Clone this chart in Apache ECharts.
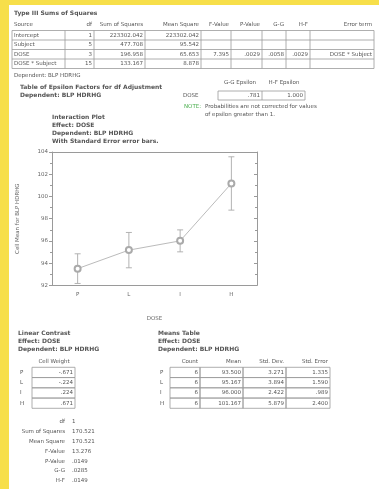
<!DOCTYPE html>
<html>
<head>
<meta charset="utf-8">
<script src="https://cdn.jsdelivr.net/npm/echarts@6/dist/echarts.min.js"></script>
<style>
  html, body { margin: 0; padding: 0; background: #f7df4a; }
  #chart { width: 379px; height: 489px; }
</style>
</head>
<body>
<div id="chart"></div>
<script>
// Dose levels and cell statistics (repeated measures)
const doseLevels = ['P', 'L', 'I', 'H'];
const cellCounts = [6, 6, 6, 6];
const cellMeans = [93.5, 95.167, 96.0, 101.167];
const cellStdDev = [3.271, 3.894, 2.422, 5.879];
const cellStdErr = [1.335, 1.59, 0.989, 2.4];

// Type III ANOVA table
const anovaHeaders = ['Source', 'df', 'Sum of Squares', 'Mean Square', 'F-Value', 'P-Value', 'G-G', 'H-F', 'Error term'];
const anovaSources = ['Intercept', 'Subject', 'DOSE', 'DOSE * Subject'];
const anovaDf = ['1', '5', '3', '15'];
const anovaSS = ['223302.042', '477.708', '196.958', '133.167'];
const anovaMS = ['223302.042', '95.542', '65.653', '8.878'];
const anovaF = ['', '', '7.395', ''];
const anovaP = ['', '', '.0029', ''];
const anovaGG = ['', '', '.0058', ''];
const anovaHF = ['', '', '.0029', ''];
const anovaErr = ['', '', 'DOSE * Subject', ''];

// Epsilon factors
const epsilonHeaders = ['G-G Epsilon', 'H-F Epsilon'];
const epsilonValues = ['.781', '1.000'];

// Linear contrast
const contrastWeights = ['-.671', '-.224', '.224', '.671'];
const contrastLabels = ['df', 'Sum of Squares', 'Mean Square', 'F-Value', 'P-Value', 'G-G', 'H-F'];
const contrastValues = ['1', '170.521', '170.521', '13.276', '.0149', '.0285', '.0149'];

// Y axis scale
const yMin = 92;
const yMax = 104;
const yStep = 2;

const FONT = 'DejaVu Sans';
const TXT = '#555';
const LINE = '#9a9a9a';

const g = [];

// page background
g.push({ type: 'rect', shape: { x: 9, y: 5, width: 370, height: 484 }, style: { fill: '#fff' }, z: -10 });

function text(x, y, s, opt) {
  opt = opt || {};
  g.push({
    type: 'text', x: x, y: y, z: 5,
    style: {
      text: s, fill: opt.color || TXT,
      font: (opt.bold ? 'bold ' : '') + (opt.size || 5.5) + 'px "' + FONT + '"',
      textAlign: opt.align || 'left', textVerticalAlign: 'middle'
    }
  });
}
function box(x, y, w, h) {
  g.push({ type: 'rect', z: 4, shape: { x: x, y: y, width: w, height: h }, style: { fill: 'none', stroke: LINE, lineWidth: 0.8 } });
}
function vline(x, y1, y2) {
  g.push({ type: 'line', z: 4, shape: { x1: x, y1: y1, x2: x, y2: y2 }, style: { stroke: LINE, lineWidth: 0.8 } });
}
function hline(x1, x2, y) {
  g.push({ type: 'line', z: 4, shape: { x1: x1, y1: y, x2: x2, y2: y }, style: { stroke: LINE, lineWidth: 0.8 } });
}

// ---- Type III Sums of Squares ----
text(14, 13, 'Type III Sums of Squares', { bold: true, size: 6 });
const colEdges = [12, 65, 94, 145, 201, 231, 262, 286, 310, 374];
const rowTop = 30.5, rowH = 9.5;
anovaHeaders.forEach((h, i) => {
  if (i === 0) text(14, 25, h);
  else text(colEdges[i + 1] - 2, 25, h, { align: 'right' });
});
box(colEdges[0], rowTop, colEdges[colEdges.length - 1] - colEdges[0], rowH * 4);
colEdges.slice(1, -1).forEach(x => vline(x, rowTop, rowTop + rowH * 4));
for (let r = 1; r < 4; r++) hline(colEdges[0], colEdges[colEdges.length - 1], rowTop + rowH * r);
const anovaCols = [anovaDf, anovaSS, anovaMS, anovaF, anovaP, anovaGG, anovaHF, anovaErr];
anovaSources.forEach((s, r) => {
  const cy = rowTop + rowH * r + rowH / 2;
  text(14, cy, s);
  anovaCols.forEach((col, c) => {
    if (col[r]) text(colEdges[c + 2] - 2, cy, col[r], { align: 'right' });
  });
});
text(14, 75.5, 'Dependent: BLP HDRHG');

// ---- Epsilon factors ----
text(20, 87.5, 'Table of Epsilon Factors for df Adjustment', { bold: true, size: 6 });
text(20, 95.5, 'Dependent: BLP HDRHG', { bold: true, size: 6 });
text(240, 82.5, epsilonHeaders[0], { align: 'center' });
text(284, 82.5, epsilonHeaders[1], { align: 'center' });
text(183, 95.5, 'DOSE');
box(218, 91, 87, 9);
vline(262, 91, 100);
text(260, 95.5, epsilonValues[0], { align: 'right' });
text(303, 95.5, epsilonValues[1], { align: 'right' });
text(184, 107, 'NOTE:', { color: '#4caf50' });
text(205, 107, 'Probabilities are not corrected for values');
text(205, 115, 'of epsilon greater than 1.');

// ---- Interaction plot titles ----
text(52, 117.5, 'Interaction Plot', { bold: true, size: 6 });
text(52, 125.5, 'Effect: DOSE', { bold: true, size: 6 });
text(52, 133.5, 'Dependent: BLP HDRHG', { bold: true, size: 6 });
text(52, 141.5, 'With Standard Error error bars.', { bold: true, size: 6 });

// ---- Linear contrast ----
text(18, 333.5, 'Linear Contrast', { bold: true, size: 6 });
text(18, 341.5, 'Effect: DOSE', { bold: true, size: 6 });
text(18, 349.5, 'Dependent: BLP HDRHG', { bold: true, size: 6 });
text(54, 362, 'Cell Weight', { align: 'center' });
const tTop = 367.3, tH = 10.25;
doseLevels.forEach((d, r) => {
  const cy = tTop + tH * r + tH / 2;
  text(20, cy, d);
  box(32, tTop + tH * r, 43, tH);
  text(73, cy, contrastWeights[r], { align: 'right' });
});
contrastLabels.forEach((l, i) => {
  const cy = 422 + 9.8 * i;
  text(65, cy, l, { align: 'right' });
  text(72, cy, contrastValues[i]);
});

// ---- Means table ----
text(158, 333.5, 'Means Table', { bold: true, size: 6 });
text(158, 341.5, 'Effect: DOSE', { bold: true, size: 6 });
text(158, 349.5, 'Dependent: BLP HDRHG', { bold: true, size: 6 });
const mEdges = [170, 200, 243, 286, 330];
['Count', 'Mean', 'Std. Dev.', 'Std. Error'].forEach((h, i) => text(mEdges[i + 1] - 2, 362, h, { align: 'right' }));
doseLevels.forEach((d, r) => {
  const cy = tTop + tH * r + tH / 2;
  text(160, cy, d);
  const vals = [String(cellCounts[r]), cellMeans[r].toFixed(3), cellStdDev[r].toFixed(3), cellStdErr[r].toFixed(3).replace(/^0/, '')];
  vals.forEach((v, c) => {
    box(mEdges[c], tTop + tH * r, mEdges[c + 1] - mEdges[c], tH);
    text(mEdges[c + 1] - 2, cy, v, { align: 'right' });
  });
});

// ---- Chart ----
const chart = echarts.init(document.getElementById('chart'));
const axisStyle = { lineStyle: { color: LINE, width: 1 } };
const labelStyle = { color: '#666', fontSize: 5.5, fontFamily: FONT };

chart.setOption({
  animation: false,
  backgroundColor: 'transparent',
  graphic: g,
  grid: { left: 52, top: 152, width: 205, height: 133.3 },
  xAxis: [
    {
      type: 'category', data: doseLevels, boundaryGap: true,
      axisLine: axisStyle,
      axisTick: { alignWithLabel: true, length: 3, lineStyle: { color: LINE } },
      axisLabel: Object.assign({ margin: 6 }, labelStyle),
      name: 'DOSE', nameLocation: 'middle', nameGap: 30,
      nameTextStyle: { color: '#666', fontSize: 5.5, fontFamily: FONT }
    },
    {
      type: 'category', data: doseLevels, boundaryGap: true, position: 'top',
      axisLine: axisStyle,
      axisTick: { alignWithLabel: true, inside: true, length: 3, lineStyle: { color: LINE } },
      axisLabel: { show: false }
    }
  ],
  yAxis: [
    {
      type: 'value', min: yMin, max: yMax, interval: yStep,
      axisLine: { show: true, lineStyle: { color: LINE, width: 1 } },
      axisTick: { show: true, length: 3, lineStyle: { color: LINE } },
      minorTick: { show: true, splitNumber: 2, length: 2, lineStyle: { color: LINE } },
      splitLine: { show: false },
      axisLabel: Object.assign({ margin: 4 }, labelStyle),
      name: 'Cell Mean for BLP HDRHG', nameLocation: 'middle', nameGap: 31, nameRotate: 90,
      nameTextStyle: { color: '#666', fontSize: 5.5, fontFamily: FONT }
    },
    {
      type: 'value', min: yMin, max: yMax, interval: yStep, position: 'right',
      axisLine: { show: true, lineStyle: { color: LINE, width: 1 } },
      axisTick: { show: true, inside: true, length: 3, lineStyle: { color: LINE } },
      minorTick: { show: true, splitNumber: 2, length: 2, lineStyle: { color: LINE } },
      splitLine: { show: false },
      axisLabel: { show: false }
    }
  ],
  series: [
    {
      type: 'line', data: cellMeans, symbol: 'emptyCircle', symbolSize: 6,
      lineStyle: { color: '#bbb', width: 1 },
      itemStyle: { color: '#aaa', borderWidth: 0.8 }, z: 3
    },
    {
      type: 'custom', z: 2,
      data: cellMeans.map((m, i) => [i, m - cellStdErr[i], m + cellStdErr[i]]),
      renderItem: function (params, api) {
        const lo = api.coord([api.value(0), api.value(1)]);
        const hi = api.coord([api.value(0), api.value(2)]);
        const w = 3;
        const st = { stroke: '#aaa', lineWidth: 0.9 };
        return {
          type: 'group',
          children: [
            { type: 'line', shape: { x1: lo[0], y1: lo[1], x2: hi[0], y2: hi[1] }, style: st },
            { type: 'line', shape: { x1: lo[0] - w, y1: lo[1], x2: lo[0] + w, y2: lo[1] }, style: st },
            { type: 'line', shape: { x1: hi[0] - w, y1: hi[1], x2: hi[0] + w, y2: hi[1] }, style: st }
          ]
        };
      }
    }
  ]
});
</script>
</body>
</html>
